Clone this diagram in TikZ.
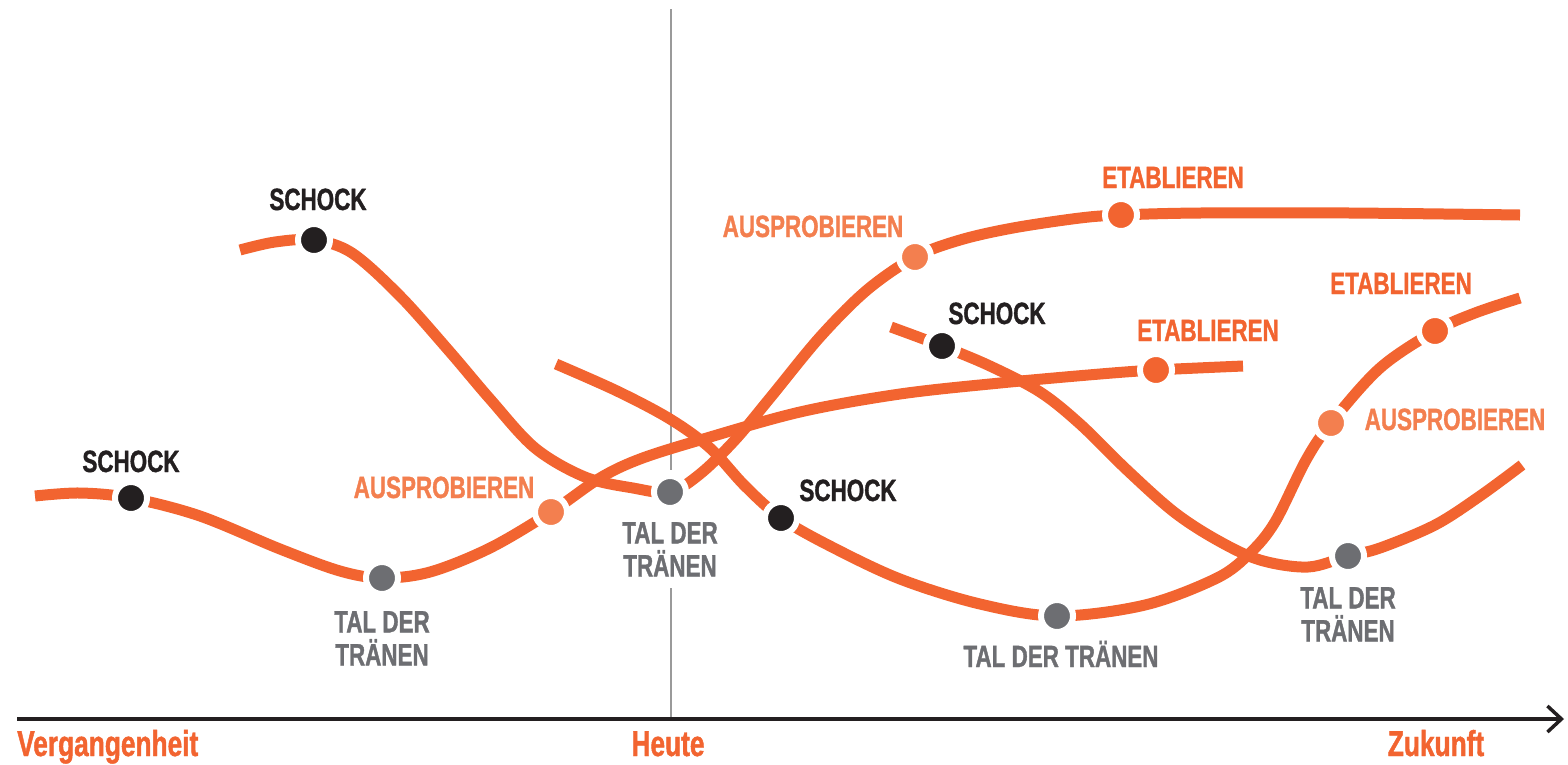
\documentclass[tikz,border=0pt]{standalone}
\usepackage{fontspec}
\usetikzlibrary{arrows.meta}
\newfontfamily\lbl[FakeStretch=0.73, FakeBold=1.2]{Liberation Sans Bold}
\definecolor{orng}{HTML}{F26430}
\definecolor{lorng}{HTML}{F37F4F}
\definecolor{dgray}{HTML}{6D6E72}
\definecolor{blk}{HTML}{231F20}
\definecolor{vgray}{HTML}{9A9A9A}
\begin{document}
\begin{tikzpicture}[x=1pt,y=-1pt,
  curve/.style={orng, line width=11pt, line cap=butt},
  dotbase/.style={circle, draw=white, line width=6pt, minimum size=32pt, inner sep=0pt},
  dotshock/.style={dotbase, fill=blk},
  dottal/.style={dotbase, fill=dgray},
  dotaus/.style={dotbase, fill=lorng},
  dotetab/.style={dotbase, fill=orng},
  lab/.style={font=\lbl\fontsize{30.7}{33}\selectfont, inner sep=0pt, anchor=base},
  labshock/.style={lab, text=blk},
  labtal/.style={lab, text=dgray, align=center},
  labaus/.style={lab, text=lorng},
  labetab/.style={lab, text=orng},
  axislab/.style={font=\lbl\fontsize{36}{40}\selectfont, inner sep=0pt, anchor=base, text=orng}
]
\useasboundingbox (0,0) rectangle (1568,764);

% vertical "Heute" line
\coordinate (v0) at (671,9);
\coordinate (v1) at (671,470);
\coordinate (v2) at (671,588);
\coordinate (v3) at (671,719);
\draw[vgray, line width=2pt] (v0) -- (v1);
\draw[vgray, line width=2pt] (v2) -- (v3);

% axis
\coordinate (ax0) at (17,719);
\coordinate (ax1) at (1564,719);
\draw[blk, line width=4pt, -{Straight Barb[length=14pt,width=26pt,line width=3.5pt]}] (ax0) -- (ax1);

% dot positions
\coordinate (c1s) at (131,498);
\coordinate (c1t) at (382,578);
\coordinate (c1a) at (551,512);
\coordinate (c1e) at (1156,370);
\coordinate (c2s) at (314,240);
\coordinate (c2t) at (670,492);
\coordinate (c2a) at (915,257);
\coordinate (c2e) at (1121,215);
\coordinate (c3s) at (781,518);
\coordinate (c3t) at (1057,616);
\coordinate (c3a) at (1331,423);
\coordinate (c3e) at (1435,331);
\coordinate (c4s) at (942,346);
\coordinate (c4t) at (1348,556);

% curve 1
\draw[curve] plot[smooth, tension=0.55] coordinates {
  (35,496) (80,493) (c1s) (200,516) (280,549) (340,571) (c1t) (430,572) (490,548)
  (c1a) (600,478) (640,459) (700,440) (800,412) (900,394) (1000,383) (1100,374) (c1e) (1243,366)};
% curve 2
\draw[curve] plot[smooth, tension=0.55] coordinates {
  (240,250) (275,242) (c2s) (352,253) (400,296) (450,352) (490,399) (535,448) (585,477) (633,488)
  (c2t) (700,474) (735,440) (770,398) (820,337) (867,290) (c2a) (960,240) (1013,228) (1080,218)
  (c2e) (1200,213) (1350,213) (1520,215)};
% curve 3
\draw[curve] plot[smooth, tension=0.55] coordinates {
  (556,364) (617,391) (670,419) (710,448) (745,486) (c3s) (830,546) (900,579) (980,604)
  (c3t) (1145,605) (1217,578) (1250,553) (1275,522) (1306,460) (c3a) (1380,368) (c3e) (1475,313) (1520,298)};
% curve 4
\draw[curve] plot[smooth, tension=0.55] coordinates {
  (891,327) (c4s) (990,366) (1040,392) (1080,424) (1127,470) (1174,512) (1217,540) (1260,560)
  (1308,567) (c4t) (1380,548) (1435,525) (1480,496) (1522,465)};

% dots
\node[dotshock] (d1s) at (c1s) {};
\node[dottal]   (d1t) at (c1t) {};
\node[dotaus]   (d1a) at (c1a) {};
\node[dotetab]  (d1e) at (c1e) {};
\node[dotshock] (d2s) at (c2s) {};
\node[dottal]   (d2t) at (c2t) {};
\node[dotaus]   (d2a) at (c2a) {};
\node[dotetab]  (d2e) at (c2e) {};
\node[dotshock] (d3s) at (c3s) {};
\node[dottal]   (d3t) at (c3t) {};
\node[dotaus]   (d3a) at (c3a) {};
\node[dotetab]  (d3e) at (c3e) {};
\node[dotshock] (d4s) at (c4s) {};
\node[dottal]   (d4t) at (c4t) {};

% labels
\node[labshock] (l1s) at (131,472) {SCHOCK};
\node[labshock] (l2s) at (318,210) {SCHOCK};
\node[labshock] (l3s) at (848,501) {SCHOCK};
\node[labshock] (l4s) at (997,324) {SCHOCK};

\node[labtal, anchor=north] (l1t) at (382,611) {TAL DER\\TRÄNEN};
\node[labtal, anchor=north] (l2t) at (670,522) {TAL DER\\TRÄNEN};
\node[labtal, anchor=north] (l4t) at (1348,587) {TAL DER\\TRÄNEN};
\node[labtal] (l3t) at (1061,667) {TAL DER TRÄNEN};

\node[labaus] (l1a) at (444,498) {AUSPROBIEREN};
\node[labaus] (l2a) at (813,237) {AUSPROBIEREN};
\node[labaus] (l3a) at (1455,430) {AUSPROBIEREN};

\node[labetab] (l2e) at (1173,188) {ETABLIEREN};
\node[labetab] (l1e) at (1208,341) {ETABLIEREN};
\node[labetab] (l3e) at (1401,294) {ETABLIEREN};

\node[axislab, anchor=base west] (past) at (17,756) {Vergangenheit};
\node[axislab] (today) at (668,756) {Heute};
\node[axislab] (future) at (1436,756) {Zukunft};
\end{tikzpicture}
\end{document}
